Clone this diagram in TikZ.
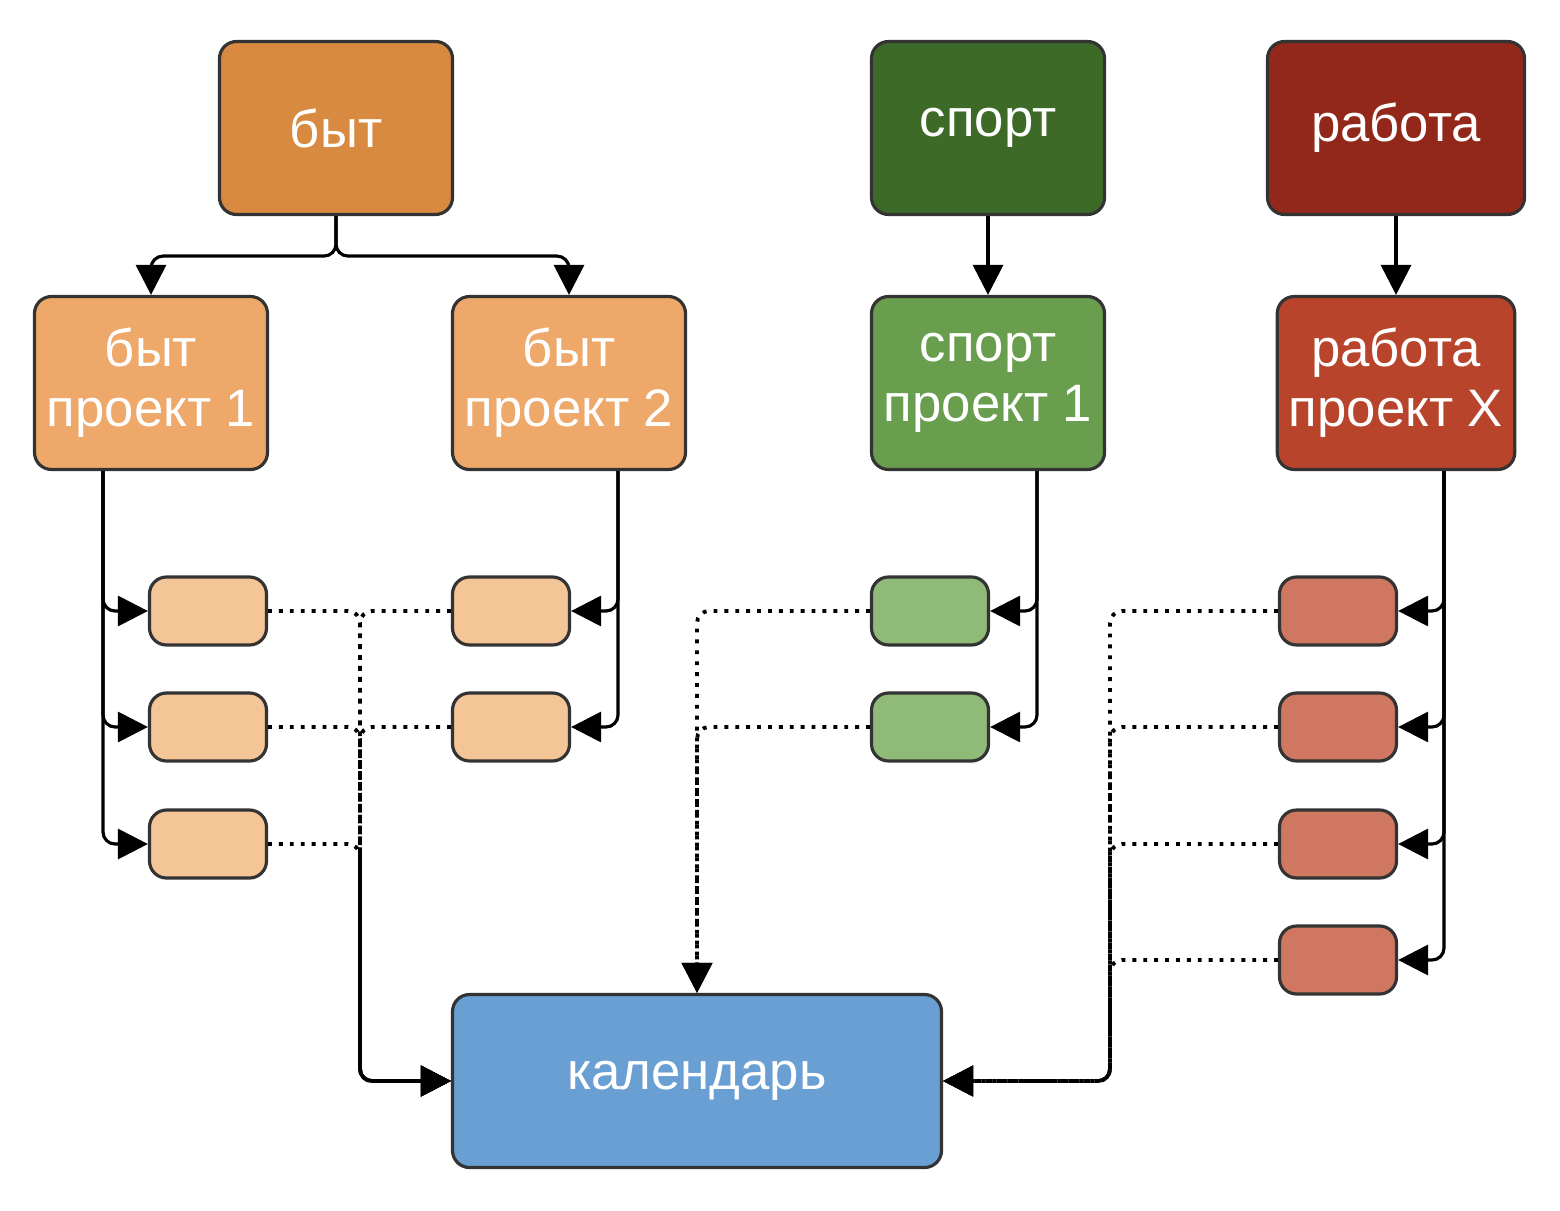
\documentclass[tikz,border=0pt]{standalone}
\usepackage{fontspec}
\setmainfont{Liberation Sans}
\usetikzlibrary{arrows.meta}
\definecolor{bytD}{HTML}{D98A41}
\definecolor{bytP}{HTML}{EEA96A}
\definecolor{bytS}{HTML}{F3C597}
\definecolor{sportD}{HTML}{3D6B27}
\definecolor{sportP}{HTML}{6A9E4F}
\definecolor{sportS}{HTML}{8FBA78}
\definecolor{workD}{HTML}{92281A}
\definecolor{workP}{HTML}{B8442B}
\definecolor{workS}{HTML}{D07762}
\definecolor{calC}{HTML}{6A9FD4}
\begin{document}
\begin{tikzpicture}
\tikzstyle{box} = [rectangle, rounded corners=0.17cm, draw = black!80, line width=0.9pt, text=white, align=center, font=\fontsize{15}{17}\selectfont, minimum width=2.33cm, minimum height=1.73cm]
\tikzstyle{small} = [rectangle, rounded corners=0.17cm, draw = black!80, line width=0.9pt, minimum width=1.17cm, minimum height=0.68cm]
\tikzstyle{edge} = [-{Triangle[length=0.3cm,width=0.3cm]}, line width=0.9pt, rounded corners=0.12cm]
\tikzstyle{dots} = [-{Triangle[length=0.3cm,width=0.3cm]}, line width=1.1pt, dotted, rounded corners=0.12cm]
\useasboundingbox (0,0) rectangle (15.6,-12.1);
% -----------------------------------
% top level
\node[box, fill=bytD] (byt) at (3.36, -1.28) {быт};
\node[box, fill=sportD] (sport) at (9.88, -1.28) {спорт};
\node[box, fill=workD, minimum width=2.57cm] (work) at (13.96, -1.28) {работа};
% -----------------------------------
% projects
\node[box, fill=bytP] (bp1) at (1.51, -3.83) {быт\\проект 1};
\node[box, fill=bytP] (bp2) at (5.69, -3.83) {быт\\проект 2};
\node[box, fill=sportP] (sp1) at (9.88, -3.83) {спорт\\проект 1};
\node[box, fill=workP] (wpx) at (13.96, -3.83) {работа\\проект X};

\draw[edge] (byt.south) -- ++(0,-0.4) -| (bp1.north);
\draw[edge] (byt.south) -- ++(0,-0.4) -| (bp2.north);
\draw[edge] (sport)--(sp1);
\draw[edge] (work)--(wpx);
% -----------------------------------
% tasks
\node[small, fill=bytS] (b1) at (2.08, -6.11) {};
\node[small, fill=bytS] (b2) at (2.08, -7.27) {};
\node[small, fill=bytS] (b3) at (2.08, -8.44) {};
\node[small, fill=bytS] (b4) at (5.11, -6.11) {};
\node[small, fill=bytS] (b5) at (5.11, -7.27) {};
\node[small, fill=sportS] (g1) at (9.30, -6.11) {};
\node[small, fill=sportS] (g2) at (9.30, -7.27) {};
\node[small, fill=workS] (r1) at (13.38, -6.11) {};
\node[small, fill=workS] (r2) at (13.38, -7.27) {};
\node[small, fill=workS] (r3) at (13.38, -8.44) {};
\node[small, fill=workS] (r4) at (13.38, -9.60) {};

\foreach \t in {b1, b2, b3}
  \draw[edge] ([xshift=-0.48cm]bp1.south) |- (\t.west);
\foreach \t in {b4, b5}
  \draw[edge] ([xshift=0.49cm]bp2.south) |- (\t.east);
\foreach \t in {g1, g2}
  \draw[edge] ([xshift=0.49cm]sp1.south) |- (\t.east);
\foreach \t in {r1, r2, r3, r4}
  \draw[edge] ([xshift=0.48cm]wpx.south) |- (\t.east);
% -----------------------------------
% calendar
\node[box, fill=calC, minimum width=4.89cm] (cal) at (6.97, -10.81) {календарь};
\coordinate (jl) at (3.6, -10.81);
\coordinate (jr) at (11.1, -10.81);

\foreach \t in {b1, b2, b3}
  \draw[dots] (\t.east) -| (jl) -- (cal.west);
\foreach \t in {b4, b5}
  \draw[dots] (\t.west) -| (jl) -- (cal.west);
\foreach \t in {g1, g2}
  \draw[dots] (\t.west) -| (cal.north);
\foreach \t in {r1, r2, r3, r4}
  \draw[dots] (\t.west) -| (jr) -- (cal.east);
% -----------------------------------
\end{tikzpicture}
\end{document}
